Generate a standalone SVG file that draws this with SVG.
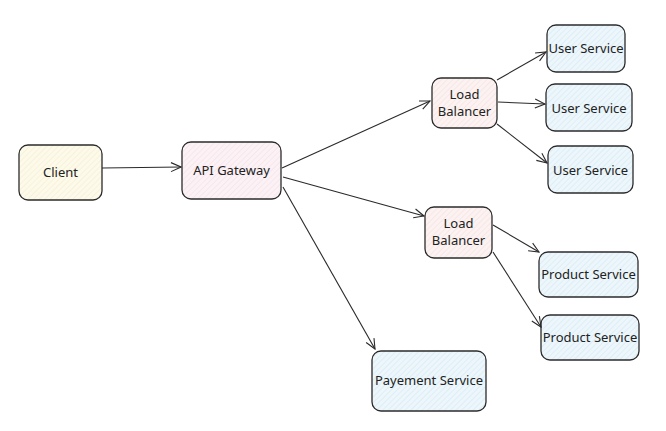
<svg xmlns="http://www.w3.org/2000/svg" width="666" height="431" viewBox="0 0 666 431">
<defs>
<pattern id="hY" width="4" height="4" patternUnits="userSpaceOnUse" patternTransform="rotate(45)"><rect width="4" height="4" fill="#fdfaea"/><line x1="0" y1="0" x2="0" y2="4" stroke="#f1ead0" stroke-width="1"/></pattern>
<pattern id="hP" width="4" height="4" patternUnits="userSpaceOnUse" patternTransform="rotate(45)"><rect width="4" height="4" fill="#fcf2f5"/><line x1="0" y1="0" x2="0" y2="4" stroke="#f0dce4" stroke-width="1"/></pattern>
<pattern id="hL" width="4" height="4" patternUnits="userSpaceOnUse" patternTransform="rotate(45)"><rect width="4" height="4" fill="#fcf2f1"/><line x1="0" y1="0" x2="0" y2="4" stroke="#f0dedc" stroke-width="1"/></pattern>
<pattern id="hB" width="4" height="4" patternUnits="userSpaceOnUse" patternTransform="rotate(45)"><rect width="4" height="4" fill="#ecf6fb"/><line x1="0" y1="0" x2="0" y2="4" stroke="#d0e6f1" stroke-width="1"/></pattern>
<marker id="arr" viewBox="0 0 12 12" refX="11" refY="6" markerWidth="12" markerHeight="12" markerUnits="userSpaceOnUse" orient="auto"><path d="M1,1.5 L11,6 L1,10.5" fill="none" stroke="#2a2a2a" stroke-width="1.1"/></marker>
<style>
.box{stroke:#2b2b2b;stroke-width:1.3}
.t{font-family:"Noto Sans","Open Sans",sans-serif;font-size:13px;fill:#222;text-anchor:middle}
.c{stroke:#2a2a2a;stroke-width:1.1;fill:none;marker-end:url(#arr)}
</style>
</defs>
<g id="client"><rect class="box" x="19" y="145" width="83" height="55" rx="9" fill="url(#hY)"/><text class="t" x="60.5" y="177">Client</text></g>
<g id="api-gateway"><rect class="box" x="182" y="142" width="99" height="57" rx="9" fill="url(#hP)"/><text class="t" x="231.5" y="175">API Gateway</text></g>
<g id="lb1"><rect class="box" x="432" y="78" width="65" height="50" rx="9" fill="url(#hL)"/><text class="t" x="464.5" y="99">Load</text><text class="t" x="464.5" y="116">Balancer</text></g>
<g id="lb2"><rect class="box" x="425" y="207" width="67" height="51" rx="9" fill="url(#hL)"/><text class="t" x="458.5" y="228">Load</text><text class="t" x="458.5" y="245">Balancer</text></g>
<g id="user1"><rect class="box" x="547" y="25" width="78" height="47" rx="9" fill="url(#hB)"/><text class="t" x="586" y="53">User Service</text></g>
<g id="user2"><rect class="box" x="546" y="84" width="86" height="47" rx="9" fill="url(#hB)"/><text class="t" x="589" y="113">User Service</text></g>
<g id="user3"><rect class="box" x="548" y="146" width="85" height="47" rx="9" fill="url(#hB)"/><text class="t" x="590.5" y="175">User Service</text></g>
<g id="product1"><rect class="box" x="539" y="252" width="99" height="45" rx="9" fill="url(#hB)"/><text class="t" x="588.5" y="279">Product Service</text></g>
<g id="product2"><rect class="box" x="541" y="315" width="98" height="45" rx="9" fill="url(#hB)"/><text class="t" x="590" y="342">Product Service</text></g>
<g id="payment"><rect class="box" x="372" y="351" width="114" height="60" rx="9" fill="url(#hB)"/><text class="t" x="429" y="385">Payement Service</text></g>
<g id="connectors">
<path class="c" d="M102,168 L181,167"/>
<path class="c" d="M282,168 L430,101"/>
<path class="c" d="M283,177 L424,216"/>
<path class="c" d="M283,187 L375,349"/>
<path class="c" d="M497,80 L546,52"/>
<path class="c" d="M498,102 L545,104"/>
<path class="c" d="M497,124 L547,163"/>
<path class="c" d="M493,225 L539,252"/>
<path class="c" d="M493,252 L541,327"/>
</g>
</svg>
